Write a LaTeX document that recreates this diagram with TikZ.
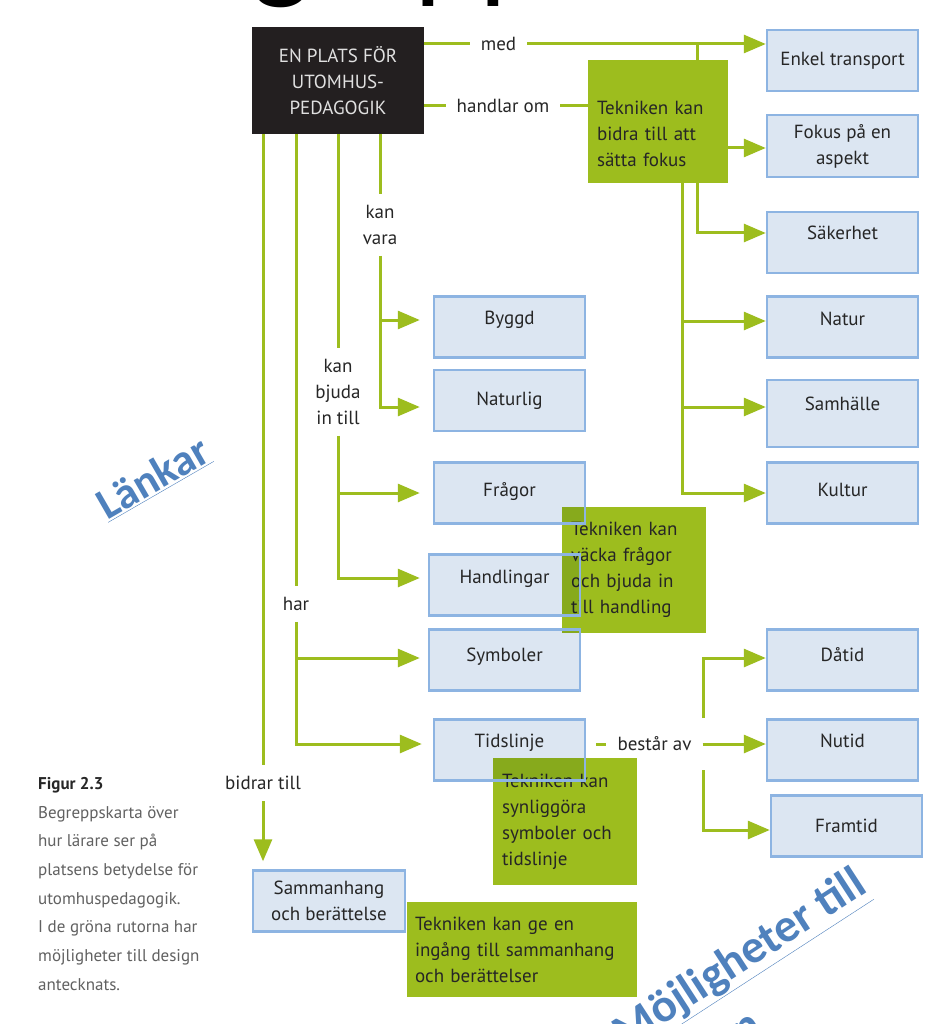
\documentclass[tikz,border=0pt]{standalone}
\usepackage{fontspec}
\setmainfont{PT Sans}
\newfontfamily\notefont{Carlito}
\usetikzlibrary{arrows.meta}

\definecolor{leaf}{HTML}{9DBD1E}
\definecolor{paleblue}{HTML}{DCE6F2}
\definecolor{edgeblue}{HTML}{8DB4E2}
\definecolor{linkblue}{HTML}{4F81BD}
\definecolor{ink}{HTML}{231F20}

\begin{document}
\begin{tikzpicture}[x=1pt, y=-1pt,
  font=\fontsize{19}{26}\selectfont,
  hub/.style={fill=ink, text=black!12, minimum width=172pt, minimum height=107pt, align=center},
  concept/.style={draw=edgeblue, line width=2.5pt, text=black!85, minimum width=151pt,
    minimum height=61pt, align=center, preaction={fill=paleblue, blend mode=multiply}},
  lift/.style={text height=14pt, text depth=#1},
  idea/.style={fill=leaf, text=black!85, align=left, inner xsep=9pt, inner ysep=3pt},
  lbl/.style={inner sep=11pt, align=center, text=black!85},
  link/.style={draw=leaf, line width=3pt},
  arr/.style={link, -{Triangle[length=22pt, width=18pt]}},
  note/.style={text=linkblue, font=\notefont\bfseries\fontsize{#1}{56}\selectfont},
  caption/.style={align=left, inner sep=0pt, text=black!62, font=\fontsize{17}{28.7}\selectfont}]

  \fill[white] (0,0) rectangle (932,1024);
  \useasboundingbox (0,0) rectangle (932,1024);
  \clip (0,0) rectangle (932,1024);

  % Title, cut off by the top edge
  \node[anchor=base west, inner sep=0pt, font=\notefont\fontsize{124}{124}\selectfont] (title)
    at (123,-13) {Begreppskarta};

  % Centre box
  \node[hub] (plats) at (338,80.5) {EN PLATS FÖR\\UTOMHUS-\\PEDAGOGIK};

  % Link words
  \node[lbl] (med) at (498.5,44) {med};
  \node[lbl] (handlar) at (503,106) {handlar om};
  \node[lbl] (vara) at (380,225) {kan\\vara};
  \node[lbl] (bjuda) at (338,392) {kan\\bjuda\\in till};
  \node[lbl] (har) at (296,604) {har};
  \node[lbl] (bidrar) at (263,783) {bidrar till};
  \node[lbl] (bestar) at (654.5,744) {består av};

  % Green notes
  \node[idea, text width=122pt, minimum height=123pt, text depth=28pt] (tekFokus) at (658,121.5)
    {Tekniken kan\\bidra till att\\sätta fokus};
  \node[idea, text width=126pt, minimum height=126pt] (tekFragor) at (634,570)
    {Tekniken kan\\väcka frågor\\och bjuda in\\till handling};
  \node[idea, text width=126pt, minimum height=127pt] (tekSymbol) at (565,821.5)
    {Tekniken kan\\synliggöra\\symboler och\\tidslinje};
  \node[idea, text width=214pt, inner xsep=8pt, minimum height=95pt] (tekStory) at (522,949.5)
    {Tekniken kan ge en\\ingång till sammanhang\\och berättelser};

  % Concepts
  \node[concept] (enkel) at (842.5,60.5) {Enkel transport};
  \node[concept, minimum height=62pt] (fokus) at (842.5,146) {Fokus på en\\aspekt};
  \node[concept, lift=20pt] (sakerhet) at (842.5,242.5) {Säkerhet};
  \node[concept, lift=18pt] (natur) at (842.5,327) {Natur};
  \node[concept, lift=21pt, minimum height=67pt] (samhalle) at (842.5,413.5) {Samhälle};
  \node[concept, lift=8pt] (kultur) at (842.5,493) {Kultur};
  \node[concept, lift=20pt] (byggd) at (509.5,327) {Byggd};
  \node[concept] (naturlig) at (509.5,400.5) {Naturlig};
  \node[concept, lift=8pt] (fragor) at (509.5,493) {Frågor};
  \node[concept, lift=18pt] (handlingar) at (504.5,585) {Handlingar};
  \node[concept, lift=12pt] (symboler) at (504.5,660) {Symboler};
  \node[concept, lift=20pt] (tidslinje) at (509.5,750) {Tidslinje};
  \node[concept, lift=12pt] (datid) at (842.5,660) {Dåtid};
  \node[concept, lift=20pt] (nutid) at (842.5,750) {Nutid};
  \node[concept] (framtid) at (846.5,826) {Framtid};
  \node[concept, minimum width=152pt] (sammanhang) at (329,901) {Sammanhang\\och berättelse};

  % Where the arrows meet the boxes
  \coordinate (trunkA) at (682,0);
  \coordinate (trunkB) at (697,0);
  \coordinate (fork1) at (703,718);
  \coordinate (fork2) at (703,770);
  \coordinate (inFokus) at ([yshift=-2pt]fokus.west);
  \coordinate (inSak) at ([yshift=9.5pt]sakerhet.west);
  \coordinate (inNatur) at ([yshift=6pt]natur.west);
  \coordinate (inSamh) at ([yshift=6.5pt]samhalle.west);
  \coordinate (inKultur) at (kultur.west);
  \coordinate (inByggd) at ([yshift=7pt]byggd.west);
  \coordinate (inNaturlig) at ([yshift=-6.5pt]naturlig.west);
  \coordinate (inFragor) at (fragor.west);
  \coordinate (inHandl) at ([yshift=7pt]handlingar.west);
  \coordinate (inSymb) at ([yshift=2pt]symboler.west);
  \coordinate (inTids) at ([yshift=6pt]tidslinje.west);
  \coordinate (inDatid) at ([yshift=2pt]datid.west);
  \coordinate (inFram) at ([yshift=-4pt]framtid.west);

  % med / handlar om
  \draw[link] (plats.east |- med) -- (med);
  \draw[arr] (med) -- (med -| enkel.west);
  \draw[link] (plats.east |- handlar) -- (handlar);
  \draw[link] (handlar) -- (handlar -| tekFokus.west);
  \draw[link] (med -| trunkB) -- (trunkB |- tekFokus.north);
  \draw[arr] (inFokus -| tekFokus.east) -- (inFokus);
  \draw[arr] (tekFokus.south -| trunkB) |- (inSak);
  \draw[arr] (tekFokus.south -| trunkA) |- (inKultur);
  \draw[arr] (inNatur -| trunkA) -- (inNatur);
  \draw[arr] (inSamh -| trunkA) -- (inSamh);

  % kan vara
  \draw[link] (plats.south -| vara) -- (vara);
  \draw[arr, shorten >=13pt] (vara) |- (inNaturlig);
  \draw[arr, shorten >=13pt] (inByggd -| vara) -- (inByggd);

  % kan bjuda in till
  \draw[link] (plats) -- (bjuda);
  \draw[arr, shorten >=8pt] (bjuda) |- (inHandl);
  \draw[arr, shorten >=13pt] (inFragor -| bjuda) -- (inFragor);

  % har
  \draw[link] (plats.south -| har) -- (har);
  \draw[arr, shorten >=11pt] (har) |- (inTids);
  \draw[arr, shorten >=8pt] (inSymb -| har) -- (inSymb);

  % bidrar till
  \draw[link] (plats.south -| bidrar) -- (bidrar);
  \draw[arr, shorten >=8pt] (bidrar) -- (bidrar |- sammanhang.north);

  % består av
  \draw[link, shorten <=10pt] (tidslinje.east |- bestar) -- (bestar);
  \draw[arr] (bestar) -- (bestar -| nutid.west);
  \draw[arr] (fork1) |- (inDatid);
  \draw[arr] (fork2) |- (inFram);

  % Caption
  \node[caption, anchor=north west] (cap) at (38,777)
    {\textcolor{black!85}{\textbf{Figur 2.3}}\\Begreppskarta över\\hur lärare ser på\\platsens betydelse för\\utomhuspedagogik.\\I de gröna rutorna har\\möjligheter till design\\antecknats.};

  % Notes in blue
  \node[note=44, rotate=30] (lankar) at (153,478) {\underline{Länkar}};
  \node[note=47, rotate=33, anchor=base west] (moj) at (623,1051) {\underline{Möjligheter till}};
  \node[note=47, rotate=33, anchor=base west] (design) at ([shift={(32.8,53)}]moj.base west) {design};
\end{tikzpicture}
\end{document}
